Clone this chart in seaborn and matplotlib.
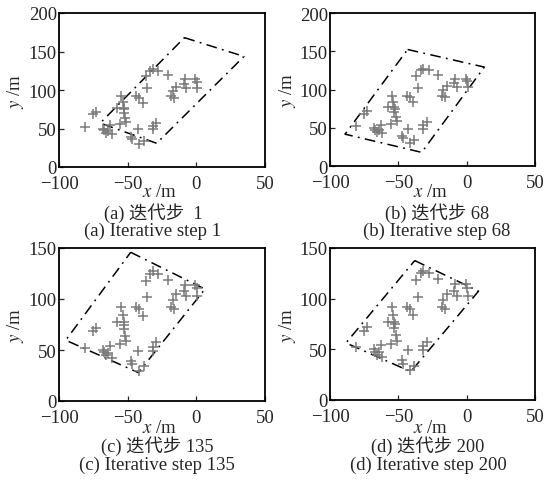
import matplotlib
matplotlib.use("Agg")
import matplotlib.pyplot as plt
import seaborn as sns
import pandas as pd

# Node positions (same in every panel)
node_x = [-81, -74.9, -73.2, -67, -65.9, -67.6, -62.7, -61.7, -64, -57.8,
          -54.9, -53.7, -52.9, -52.9, -52, -55.4, -51.2, -52.4, -47.6, -46.8,
          -42.7, -41.5, -38.3, -43.9, -41.5, -39, -35.9, -37, -33.4, -31.7,
          -27.6, -20.7, -31.7, -29.3, -31.7, -18.3, -17, -15.9, -14.6, -8.5,
          -7.3, -0.7, 0.7, 0.5, -9]
node_y = [52, 68.5, 71.6, 47.7, 44.7, 50, 54, 42.5, 46.9, 77,
          92, 84, 77, 70.7, 64, 55.5, 58.6, 75, 39.5, 36,
          49, 29.5, 34, 92, 90, 83.7, 102, 118, 125, 127,
          125, 119, 49, 57.7, 53, 92, 99, 90, 104.5, 114,
          103, 114, 103, 110.6, 108]

# Covering parallelogram vertices per iteration step
poly_a_x = [-8.7, 34.7, -28.9, -70.0, -8.7]
poly_a_y = [168, 143.6, 30.8, 57.0, 168]
poly_b_x = [-43.2, 12.9, -32.9, -89.0, -43.2]
poly_b_y = [152.3, 129.3, 17.8, 41.6, 152.3]
poly_c_x = [-47.8, 6.3, -42.2, -95.1, -47.8]
poly_c_y = [145.8, 109.7, 27.8, 59.6, 145.8]
poly_d_x = [-38.0, 8.7, -40.9, -88.3, -38.0]
poly_d_y = [137.6, 107.4, 28.0, 56.3, 137.6]

captions_cn = ["(a) 迭代步  1", "(b) 迭代步 68", "(c) 迭代步 135", "(d) 迭代步 200"]
captions_en = ["(a) Iterative step 1", "(b) Iterative step 68",
               "(c) Iterative step 135", "(d) Iterative step 200"]
ymax = [200, 200, 150, 150]
yticks_list = [[0, 50, 100, 150, 200], [0, 50, 100, 150, 200],
               [0, 50, 100, 150], [0, 50, 100, 150]]
xticks = [-100, -50, 0, 50]

sns.set_style("white")
plt.rcParams['font.family'] = ['Liberation Serif', 'Noto Sans CJK SC']
plt.rcParams['mathtext.fontset'] = 'stix'

FS = 13.5
W, H = 545, 481
fig = plt.figure(figsize=(W / 100, H / 100), dpi=100)

boxes = [(59, 14, 265, 168), (330, 14, 535, 167), (59, 249, 265, 402), (330, 249, 535, 401)]
polys = [(poly_a_x, poly_a_y), (poly_b_x, poly_b_y), (poly_c_x, poly_c_y), (poly_d_x, poly_d_y)]
# (center x, xlabel y, cn caption y, en caption y)
cap_pos = [(153, 193, 213, 231), (437, 193, 213, 231),
           (157, 429, 446, 465), (428, 429, 446, 465)]
ylab_x = [15, 288, 15, 288]

nodes = pd.DataFrame({"x": node_x, "y": node_y})

for i in range(4):
    l, t, r, b = boxes[i]
    ax = fig.add_axes([l / W, 1 - b / H, (r - l) / W, (b - t) / H])
    px, py = polys[i]
    poly = pd.DataFrame({"x": px, "y": py})
    sns.lineplot(data=poly, x="x", y="y", sort=False, estimator=None, ax=ax,
                 color="black", lw=1.1)
    ax.lines[-1].set_dashes([7, 3.5, 1.2, 3.5])
    sns.scatterplot(data=nodes, x="x", y="y", marker="+", s=60, color="#7a7a7a",
                    linewidth=1.1, ax=ax, zorder=3)
    ax.set_xlim(-100, 50)
    ax.set_ylim(0, ymax[i])
    ax.set_xticks(xticks)
    ax.set_yticks(yticks_list[i])
    ax.set_xticklabels(["\u2212100", "\u221250", "0", "50"])
    ax.tick_params(labelsize=FS, direction="in", length=3.5, width=0.9,
                   bottom=True, left=True)
    ax.tick_params(axis="x", pad=5.5)
    ax.tick_params(axis="y", pad=1.5)
    for lab in ax.get_yticklabels():
        lab.set_va("center_baseline")
    for sp in ax.spines.values():
        sp.set_color("black")
        sp.set_linewidth(1.3)
    ax.set_xlabel("")
    ax.set_ylabel("$y$ /m", fontsize=FS, va="center")
    ax.yaxis.set_label_coords((ylab_x[i] - l) / (r - l), 0.5)
    c_x, yx, y1, y2 = cap_pos[i]
    fig.text(((l + r) / 2 - 2) / W, 1 - yx / H, "$x$ /m", ha="center", va="center",
             fontsize=FS)
    fig.text(c_x / W, 1 - y1 / H, captions_cn[i], ha="center", va="center",
             fontsize=13.2)
    fig.text(c_x / W, 1 - y2 / H, captions_en[i], ha="center", va="center",
             fontsize=FS)

fig.savefig("out.png", dpi=100)
